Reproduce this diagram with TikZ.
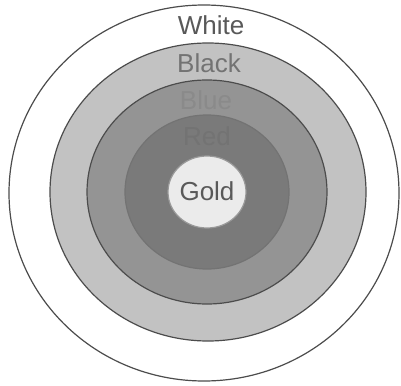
\documentclass[tikz,border=0pt]{standalone}
\usepackage{fontspec}
\setmainfont{Liberation Sans}
\begin{document}
\begin{tikzpicture}[x=1pt,y=-1pt,
  ring/.style={draw=black!70,line width=1.2pt},
  lbl/.style={font=\fontsize{26}{28}\selectfont,text=black!65,inner sep=0pt}]
\useasboundingbox (0,0) rectangle (401,385);
\fill[white] (0,0) rectangle (401,385);
\draw[ring,fill=white] (204,193) ellipse [x radius=195,y radius=188];
\draw[ring,fill=black!24] (208,192) ellipse [x radius=158,y radius=149];
\draw[ring,fill=black!42] (207,192) ellipse [x radius=120,y radius=112];
\draw[ring,draw=black!55,fill=black!52] (207,192) ellipse [x radius=82,y radius=77];
\draw[ring,draw=black!40,fill=black!8] (207,192) ellipse [x radius=39,y radius=36];
\node[lbl] (white) at (211,25) {White};
\node[lbl,text=black!55] (black) at (209,63) {Black};
\node[lbl,text=black!46] (blue) at (206,100) {Blue};
\node[lbl,text=black!55] (red) at (207,136) {Red};
\node[lbl] (gold) at (207,191) {Gold};
\end{tikzpicture}
\end{document}
